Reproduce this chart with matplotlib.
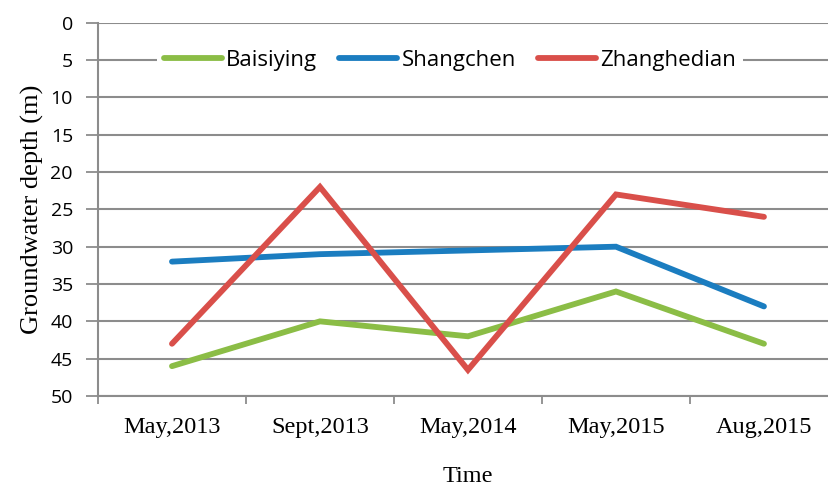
import matplotlib
matplotlib.use("Agg")
import matplotlib.pyplot as plt
from matplotlib.ticker import FixedLocator, NullFormatter

categories = ["May,2013", "Sept,2013", "May,2014", "May,2015", "Aug,2015"]
baisiying = [46, 40, 42, 36, 43]
shangchen = [32, 31, 30.5, 30, 38]
zhanghedian = [43, 22, 46.5, 23, 26]
y_ticks = [0, 5, 10, 15, 20, 25, 30, 35, 40, 45, 50]

series = [
    ("Baisiying", baisiying, "#8BBD46"),
    ("Shangchen", shangchen, "#1B7DC0"),
    ("Zhanghedian", zhanghedian, "#D94F4A"),
]

fig = plt.figure(figsize=(8.29, 4.92), dpi=100)
ax = fig.add_axes([0.1182, 0.1951, 0.8926, 0.7587])

x = list(range(len(categories)))
for name, vals, col in series:
    ax.plot(x, vals, color=col, lw=4.2, label=name,
            solid_capstyle="round", solid_joinstyle="miter", zorder=3)

ax.set_xlim(-0.5, len(categories) - 0.5)
ax.set_ylim(50, 0)
ax.set_yticks(y_ticks)
ax.set_yticklabels([str(v) for v in y_ticks], fontfamily="Open Sans", fontsize=14)

ax.set_xticks(x)
ax.set_xticklabels(categories, fontfamily="Liberation Serif", fontsize=17.5)
ax.tick_params(axis="x", which="major", length=0, pad=15)
ax.xaxis.set_minor_locator(FixedLocator([i - 0.5 for i in range(len(categories) + 1)]))
ax.xaxis.set_minor_formatter(NullFormatter())
ax.tick_params(axis="x", which="minor", length=6, width=1.3, color="#8C8C8C", direction="out")
ax.tick_params(axis="y", length=9, width=1.3, color="#8C8C8C", pad=9)

ax.grid(axis="y", color="#8C8C8C", lw=1.5, zorder=0)
ax.set_axisbelow(True)
for s in ["top", "right"]:
    ax.spines[s].set_visible(False)
for s in ["left", "bottom"]:
    ax.spines[s].set_color("#8C8C8C")
    ax.spines[s].set_linewidth(1.5)

ax.set_xlabel("Time", fontfamily="Liberation Serif", fontsize=17.5, labelpad=20)
ax.set_ylabel("Groundwater depth (m)", fontfamily="Liberation Serif", fontsize=19, labelpad=5)

leg = ax.legend(loc="center", bbox_to_anchor=(0.543, 0.878), bbox_transform=fig.transFigure,
                ncol=3, frameon=True, fancybox=False, handlelength=2.6, handletextpad=0.2,
                columnspacing=1.0, borderpad=0.3, prop={"family": "Open Sans", "size": 16})
leg.get_frame().set_facecolor("white")
leg.get_frame().set_edgecolor("none")
leg.get_frame().set_alpha(1)
for h in leg.get_lines():
    h.set_solid_capstyle("round")

fig.savefig("out.png", dpi=100)
